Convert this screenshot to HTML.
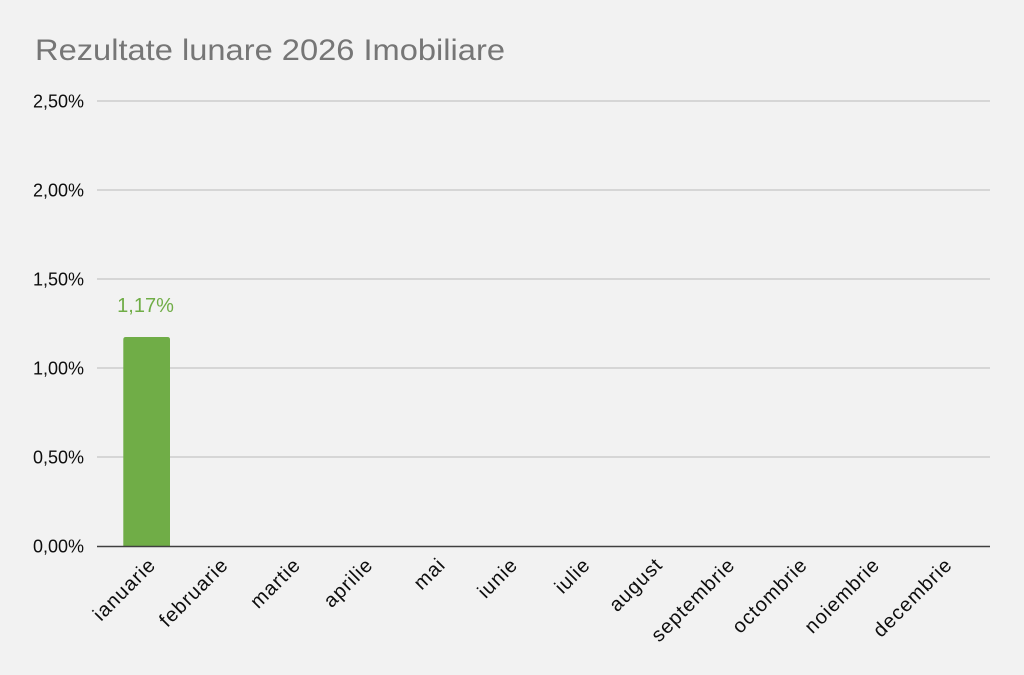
<!DOCTYPE html>
<html>
<head>
<meta charset="utf-8">
<style>
  html, body { margin:0; padding:0; background:#f2f2f2; }
  svg { display:block; }
  text { font-family: "Liberation Sans", Arial, sans-serif; }
</style>
</head>
<body>
<svg width="1024" height="675" viewBox="0 0 1024 675" xmlns="http://www.w3.org/2000/svg">
  <rect x="0" y="0" width="1024" height="675" fill="#f2f2f2"/>

  <!-- Title -->
  <text x="35" y="60" font-size="30" fill="#767676" textLength="470" lengthAdjust="spacingAndGlyphs">Rezultate lunare 2026 Imobiliare</text>

  <!-- Gridlines -->
  <g stroke="#c6c6c6" stroke-width="1.3">
    <line x1="97" y1="101" x2="990" y2="101"/>
    <line x1="97" y1="190" x2="990" y2="190"/>
    <line x1="97" y1="279" x2="990" y2="279"/>
    <line x1="97" y1="368" x2="990" y2="368"/>
    <line x1="97" y1="457" x2="990" y2="457"/>
  </g>

  <!-- Y tick labels -->
  <g font-size="18" fill="#0d0d0d" text-anchor="end">
    <text x="84" y="107.5">2,50%</text>
    <text x="84" y="196.5">2,00%</text>
    <text x="84" y="285.5">1,50%</text>
    <text x="84" y="374.5">1,00%</text>
    <text x="84" y="463.5">0,50%</text>
    <text x="84" y="552.5">0,00%</text>
  </g>

  <!-- Bar -->
  <path d="M123.3,546 L123.3,339.5 Q123.3,337 125.8,337 L167.5,337 Q170,337 170,339.5 L170,546 Z" fill="#70ad47"/>

  <!-- Data label -->
  <text x="145.5" y="312" font-size="20" fill="#70ad47" text-anchor="middle">1,17%</text>

  <!-- Axis line -->
  <line x1="97" y1="546.5" x2="990" y2="546.5" stroke="#404040" stroke-width="1.6"/>

  <!-- X category labels -->
  <g font-size="20" fill="#0d0d0d" text-anchor="end" letter-spacing="1">
    <text transform="translate(157,566) rotate(-45)">ianuarie</text>
    <text transform="translate(229.4,566) rotate(-45)">februarie</text>
    <text transform="translate(301.8,566) rotate(-45)">martie</text>
    <text transform="translate(374.2,566) rotate(-45)">aprilie</text>
    <text transform="translate(446.6,566) rotate(-45)">mai</text>
    <text transform="translate(519,566) rotate(-45)">iunie</text>
    <text transform="translate(591.4,566) rotate(-45)">iulie</text>
    <text transform="translate(663.8,566) rotate(-45)">august</text>
    <text transform="translate(736.2,566) rotate(-45)">septembrie</text>
    <text transform="translate(808.6,566) rotate(-45)">octombrie</text>
    <text transform="translate(881,566) rotate(-45)">noiembrie</text>
    <text transform="translate(953.4,566) rotate(-45)">decembrie</text>
  </g>
</svg>
</body>
</html>
